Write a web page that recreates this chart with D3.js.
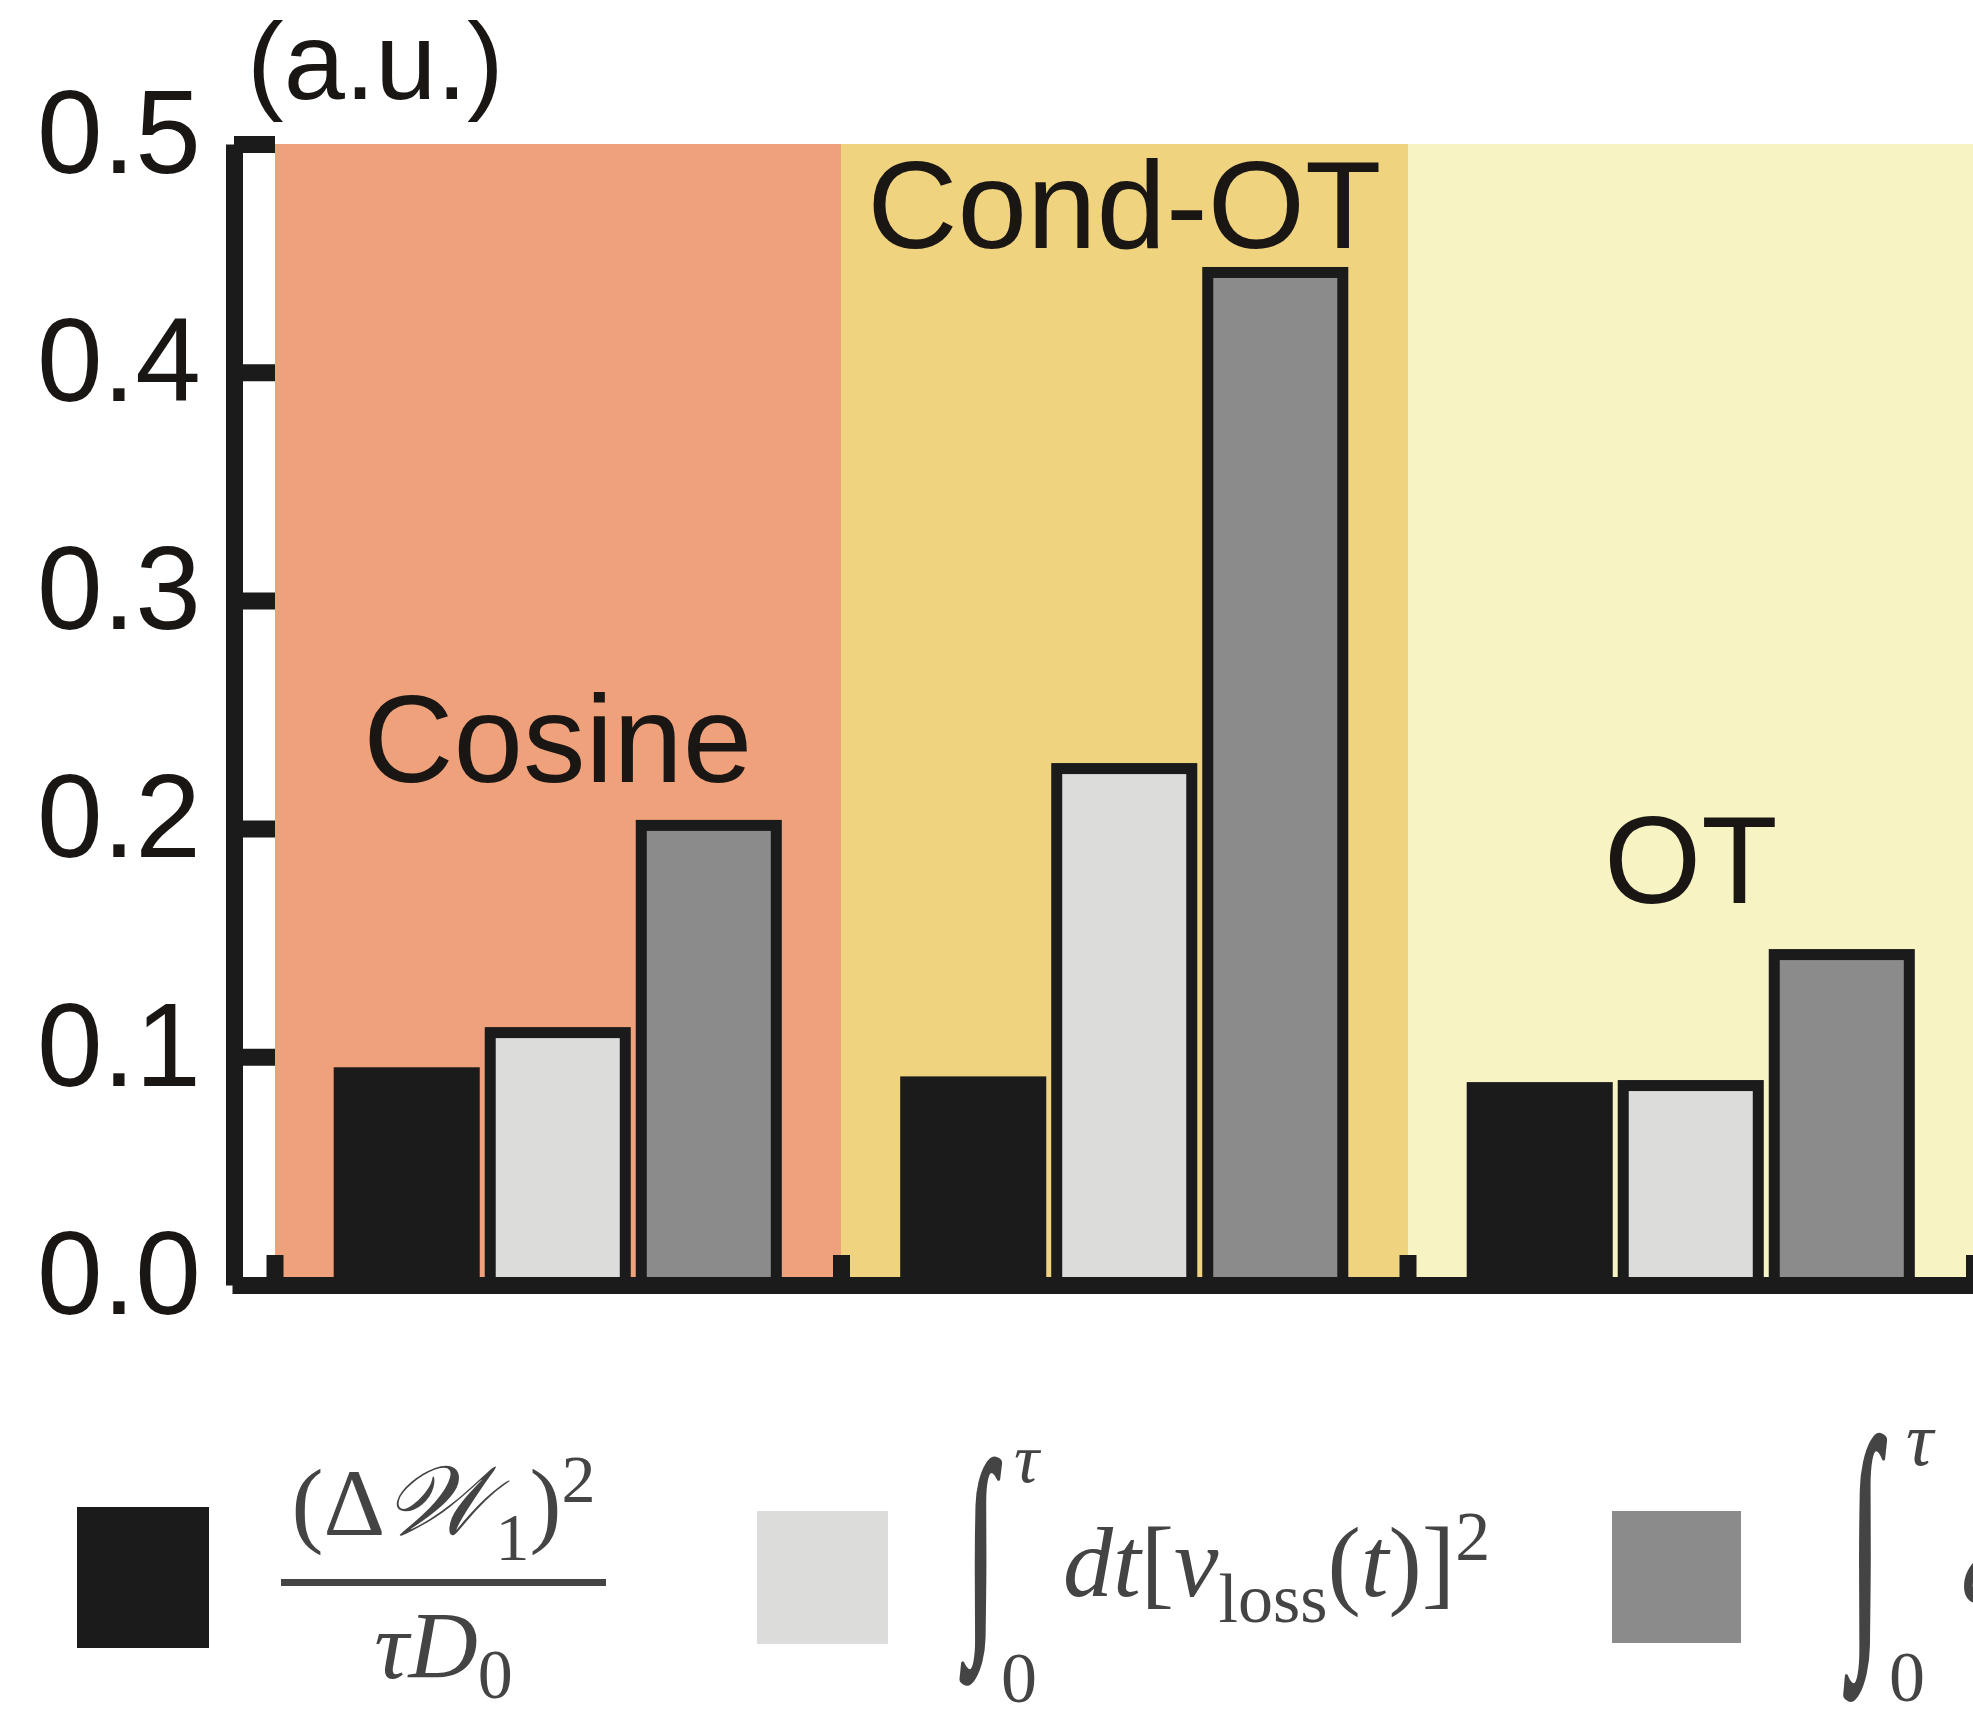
<!DOCTYPE html>
<html><head><meta charset="utf-8">
<script src="https://cdn.jsdelivr.net/npm/d3@7"></script>
<style>
html,body{margin:0;padding:0;background:#fff;}
svg{display:block;}
</style></head>
<body>
<svg id="chart" width="1973" height="1718"></svg>
<script>
// ---------------- data ----------------
const categories = ["Cosine", "Cond-OT", "OT"];
const seriesKeys = ["w1Bound", "lossSpeed", "flowSpeed"];
const w1Bound   = [0.093, 0.089, 0.0865];   // (ΔW1)^2 / (τ D0)
const lossSpeed = [0.1106, 0.2263, 0.0874]; // ∫ dt [v_loss(t)]^2
const flowSpeed = [0.2014, 0.4437, 0.1448]; // third integral
const yTicks = [0, 0.1, 0.2, 0.3, 0.4, 0.5];
const labelLevels = [0.2204, 0.4544, 0.1674]; // category label baselines (data units)
const unitLabel = "(a.u.)";

// ---------------- styles ----------------
const bgColors = ["#EFA17C", "#F0D37F", "#F7F3C3"];
const barColors = {w1Bound: "#1b1b1b", lossSpeed: "#dcdcda", flowSpeed: "#8b8b8b"};
const ink = "#1b1b1b";
const textInk = "#1a1614";
const mathInk = "#444444";
const SANS = "'Liberation Sans', Arial, Helvetica, sans-serif";
const SERIF = "'Liberation Serif', 'Times New Roman', serif";
const SCRIPT = "'DejaVu Serif', 'DejaVu Sans', 'Noto Sans Math', serif";

const svg = d3.select("#chart");
svg.append("rect").attr("width", 1973).attr("height", 1718).attr("fill", "#fff");

const y = d3.scaleLinear().domain([0, 0.5]).range([1285, 144]);
const x = d3.scaleBand().domain(categories).range([274.5, 1974]).padding(0);
const xi = d3.scaleBand().domain(seriesKeys).range([0, x.bandwidth()])
  .paddingInner(0.033).paddingOuter(0.392);
const values = {w1Bound, lossSpeed, flowSpeed};
const sw = 11;

// backgrounds
svg.append("g").selectAll("rect").data(categories).join("rect")
  .attr("x", d => x(d)).attr("y", y(0.5))
  .attr("width", x.bandwidth() + 0.5).attr("height", y(0) - y(0.5))
  .attr("fill", (d, i) => bgColors[i])
  .attr("shape-rendering", "crispEdges");

// category labels
svg.append("g").selectAll("text").data(categories).join("text")
  .attr("x", d => x(d) + x.bandwidth() / 2)
  .attr("y", (d, i) => y(labelLevels[i]))
  .attr("text-anchor", "middle")
  .attr("font-family", SANS).attr("font-size", 125).attr("fill", textInk)
  .text(d => d);

// bars
const groups = svg.append("g").selectAll("g").data(categories).join("g")
  .attr("transform", d => `translate(${x(d)},0)`);
groups.selectAll("rect")
  .data((c, i) => seriesKeys.map(k => ({key: k, value: values[k][i]})))
  .join("rect")
  .attr("x", d => xi(d.key) + sw / 2)
  .attr("width", xi.bandwidth() - sw)
  .attr("y", d => y(d.value))
  .attr("height", d => y(0) - y(d.value))
  .attr("fill", d => barColors[d.key])
  .attr("stroke", ink).attr("stroke-width", sw);

// y axis
const yAxis = d3.axisLeft(y).tickValues(yTicks).tickFormat(d3.format(".1f"))
  .tickSizeInner(-41).tickSizeOuter(0).tickPadding(33);
const gy = svg.append("g").attr("transform", "translate(234,0)").call(yAxis);
gy.select(".domain").attr("stroke", ink).attr("stroke-width", 17);
gy.selectAll(".tick line").attr("stroke", ink).attr("stroke-width", 17);
gy.selectAll(".tick text").attr("font-family", SANS).attr("font-size", 118)
  .attr("fill", textInk).attr("dy", "0.24em");

// x axis (section boundaries)
const edges = categories.map(c => x(c)).concat([x.range()[1]]);
const xEdge = d3.scaleIdentity().domain([232, 1973]);
const xAxis = d3.axisBottom(xEdge).tickValues(edges).tickSizeInner(-30)
  .tickSizeOuter(0).tickFormat("");
const gx = svg.append("g").attr("transform", `translate(0,${y(0)})`).call(xAxis);
gx.select(".domain").attr("stroke", ink).attr("stroke-width", 17);
gx.selectAll(".tick line").attr("stroke", ink).attr("stroke-width", 17);

// unit label
svg.append("text").attr("x", 247).attr("y", 98.6)
  .attr("font-family", SANS).attr("font-size", 110).attr("fill", textInk)
  .text(unitLabel);

// ---------------- legend ----------------
const lg = svg.append("g");
lg.append("rect").attr("x", 79).attr("y", 1509).attr("width", 128).attr("height", 137)
  .attr("fill", barColors.w1Bound).attr("stroke", ink).attr("stroke-width", 4);
lg.append("rect").attr("x", 757).attr("y", 1511).attr("width", 131).attr("height", 133)
  .attr("fill", barColors.lossSpeed);
lg.append("rect").attr("x", 1612).attr("y", 1511).attr("width", 129).attr("height", 132)
  .attr("fill", barColors.flowSpeed);

function mathText(parent, xx, yy, size, anchor, parts) {
  const t = parent.append("text").attr("x", xx).attr("y", yy)
    .attr("font-family", SERIF).attr("font-size", size).attr("fill", mathInk)
    .attr("text-anchor", anchor);
  parts.forEach(p => {
    const s = t.append("tspan").text(p.t);
    if (p.i) s.attr("font-style", "italic");
    if (p.s) s.attr("font-size", p.s);
    if (p.dy) s.attr("dy", p.dy);
    if (p.f) s.attr("font-family", p.f);
  });
  return t;
}

function fitGlyph(parent, ch, family, box) {
  const ctx = document.createElement("canvas").getContext("2d");
  const fs = 200;
  ctx.font = `${fs}px ${family}`;
  const m = ctx.measureText(ch);
  const l = -m.actualBoundingBoxLeft, r = m.actualBoundingBoxRight;
  const t = -m.actualBoundingBoxAscent, b = m.actualBoundingBoxDescent;
  const pad = 2;
  const sx = (box[2] - box[0] - 2 * pad) / (r - l), sy = (box[3] - box[1] - 2 * pad) / (b - t);
  parent.append("text").attr("font-family", family).attr("font-size", fs)
    .attr("fill", mathInk).attr("stroke", mathInk).attr("stroke-width", 4)
    .attr("vector-effect", "non-scaling-stroke").attr("stroke-linejoin", "round")
    .attr("transform", `translate(${box[0] + pad - l * sx},${box[1] + pad - t * sy}) scale(${sx},${sy})`)
    .text(ch);
}

// formula 1: (ΔW1)^2 / (τ D0)
mathText(lg, 443.5, 1535, 96, "middle", [
  {t: "(Δ"}, {t: "𝒲", f: SCRIPT, i: true}, {t: "1", s: 68, dy: 25},
  {t: ")", s: 96, dy: -25}, {t: "2", s: 68, dy: -33}
]);
lg.append("line").attr("x1", 281).attr("x2", 606).attr("y1", 1582.5).attr("y2", 1582.5)
  .attr("stroke", mathInk).attr("stroke-width", 7);
mathText(lg, 443.5, 1678, 96, "middle", [
  {t: "τD", i: true}, {t: "0", s: 70, dy: 20}
]);

// formula 2: ∫_0^τ dt [v_loss(t)]^2
fitGlyph(lg, "∫", SERIF, [958.5, 1457, 1003, 1686]);
mathText(lg, 1014, 1482, 70, "start", [{t: "τ", i: true}]);
mathText(lg, 1001, 1702, 72, "start", [{t: "0"}]);
mathText(lg, 1063, 1596, 100, "start", [
  {t: "dt", i: true}, {t: "["}, {t: "v", i: true}, {t: "loss", s: 70, dy: 26},
  {t: "(", s: 100, dy: -26}, {t: "t", i: true}, {t: ")]"}, {t: "2", s: 70, dy: -36}
]);

// formula 3 (its start only, the frame edge cuts the rest)
fitGlyph(lg, "∫", SERIF, [1842, 1433, 1888, 1702]);
mathText(lg, 1906, 1465, 76, "start", [{t: "τ", i: true}]);
mathText(lg, 1889, 1701, 72, "start", [{t: "0"}]);
mathText(lg, 1961, 1602, 100, "start", [{t: "d", i: true}]);
</script>
</body></html>
